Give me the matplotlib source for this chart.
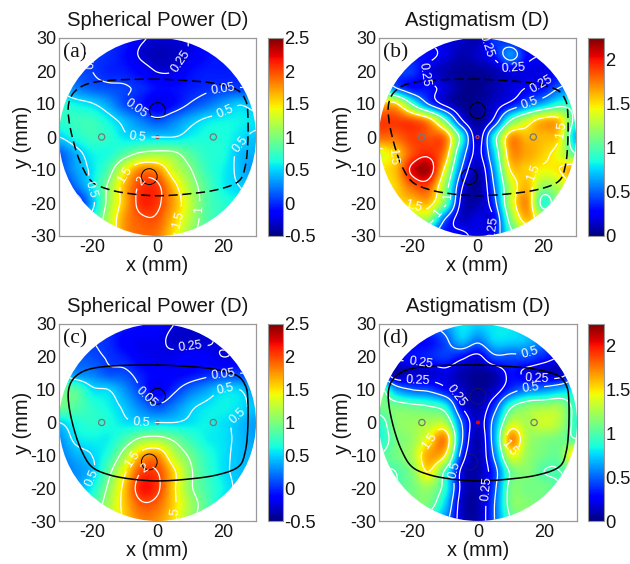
import numpy as np
import matplotlib
matplotlib.use("Agg")
import matplotlib.pyplot as plt
from matplotlib.patches import Circle

plt.rcParams['font.family'] = ['Liberation Sans', 'DejaVu Sans']
plt.rcParams['axes.unicode_minus'] = False

# grid of readings: columns x=-30..30, rows y=30..-30, step 5 mm
grid_x = [-30, -25, -20, -15, -10, -5, 0, 5, 10, 15, 20, 25, 30]
grid_y = [30, 25, 20, 15, 10, 5, 0, -5, -10, -15, -20, -25, -30]

power_a = [
 [ .05, .05, .05, .00,-.05,-.22,-.28,-.28,-.24,-.10,-.05,-.05,-.05],
 [ .05, .05, .05, .00,-.10,-.28,-.35,-.32,-.22,-.10,-.05,-.05,-.05],
 [ .10, .10, .05,-.02,-.05,-.15,-.26,-.25,-.10,-.05,-.05,-.03, .00],
 [ .40, .25, .15, .10, .07, .00,-.10,-.10,-.05, .00, .03, .05, .05],
 [ .70, .60, .52, .35, .10,-.05,-.22,-.10, .07, .20, .35, .48, .40],
 [ .70, .75, .75, .60, .42, .25, .12, .25, .42, .55, .60, .60, .55],
 [ .50, .65, .75, .70, .55, .50, .50, .50, .60, .65, .65, .55, .45],
 [ .15, .40, .60, .65, .85,1.05,1.10,1.05, .85, .70, .65, .45, .40],
 [ .10, .35, .55, .85,1.40,1.80,1.75,1.30,1.02, .75, .60, .45, .30],
 [-.10, .20, .55,1.05,1.65,2.05,2.05,1.60,1.15, .85, .60, .50, .40],
 [-.10,-.10, .40,1.10,1.65,2.10,2.05,1.70,1.25, .85, .70, .60, .50],
 [ .10, .20, .60,1.20,1.75,1.95,1.95,1.60,1.20, .85, .70, .60, .50],
 [ .30, .40, .60,1.20,1.75,1.90,1.85,1.50,1.10, .85, .70, .60, .50],
]
astig_b = [
 [ .20, .20, .20, .20, .20, .15, .10, .40, .30, .20, .20, .20, .20],
 [ .30, .30, .30, .30, .20, .10, .15, .30, .60, .30, .25, .25, .25],
 [ .40, .40, .40, .20, .10, .05, .05, .10, .20, .20, .20, .30, .30],
 [ .90, .50, .30, .30, .18, .05, .03, .10, .18, .25, .30, .50, .60],
 [1.60,1.55,1.00, .50, .20, .05, .05, .15, .30, .50, .70, .90, .90],
 [1.90,1.90,1.85,1.65,1.05, .30, .05, .30,1.00,1.35,1.60,1.55, .90],
 [1.80,1.80,1.90,1.85,1.75, .90, .15, .85,1.65,1.60,1.60,1.50, .70],
 [1.40,1.55,1.85,1.95,1.70, .70, .20, .75,1.65,1.65,1.55,1.40,1.00],
 [1.50,1.60,2.05,2.15,1.45, .50, .10, .60,1.50,1.55,1.45,1.50,1.70],
 [1.45,1.55,1.80,1.85,1.20, .30, .05, .50,1.30,1.60,1.20,1.30,1.50],
 [1.45,1.50,1.55,1.60,1.10, .20, .10, .40,1.30,1.70, .90,1.20,1.20],
 [1.20,1.20,1.20,1.20, .50, .15, .20, .25,1.10,1.60,1.30,1.20,1.20],
 [ .80, .80, .60, .50, .30, .30, .20, .30, .90,1.20,1.20,1.20,1.20],
]
power_c = [
 [ .05, .05, .05, .00,-.05,-.10,-.15,-.25,-.28,-.25,-.20,-.15,-.10],
 [ .05, .05, .05, .00,-.15,-.20,-.20,-.30,-.30,-.28,-.20,-.15,-.10],
 [ .15, .15, .10, .03,-.05,-.18,-.22,-.20,-.15,-.15,-.25,-.20,-.15],
 [ .50, .30, .25, .12, .10,-.05,-.15,-.15,-.10,-.03, .03, .05, .05],
 [ .90, .85, .55, .50, .30, .05,-.20, .00, .20, .35, .50, .50, .30],
 [ .95, .85, .70, .60, .45, .25, .10, .25, .45, .55, .60, .55, .45],
 [ .50, .65, .70, .65, .55, .50, .50, .50, .55, .60, .55, .45, .35],
 [ .30, .55, .60, .60, .80,1.05,1.10, .95, .75, .60, .55, .45, .35],
 [ .25, .40, .50, .70,1.15,1.65,1.75,1.25, .95, .70, .55, .45, .40],
 [ .20, .30, .45, .90,1.45,2.00,2.00,1.55,1.05, .75, .55, .45, .40],
 [ .30, .35, .60,1.05,1.60,2.15,2.05,1.55,1.05, .80, .60, .45, .40],
 [ .40, .45, .75,1.15,1.60,1.95,1.90,1.55,1.15, .85, .55, .50, .45],
 [ .50, .55, .80,1.15,1.55,1.80,1.75,1.50,1.10, .80, .55, .50, .45],
]
astig_d = [
 [ .40, .40, .40, .50, .60, .80, .75, .80, .80, .70, .60, .50, .50],
 [ .30, .30, .30, .30, .45, .70, .55, .75, .75, .70, .55, .50, .50],
 [ .30, .30, .30, .35, .40, .30, .20, .45, .45, .45, .35, .25, .30],
 [ .40, .10, .15, .15, .20, .10, .05, .10, .30, .20, .15, .15, .40],
 [1.10, .65, .50, .45, .30, .15, .05, .15, .40, .55, .60, .70, .80],
 [1.10,1.10,1.05,1.00, .85, .25, .10, .40, .95,1.15,1.20,1.20, .90],
 [ .90,1.15,1.20,1.25,1.25, .50, .15, .60,1.30,1.25,1.35,1.25, .90],
 [ .85,1.10,1.20,1.45,1.70, .55, .10, .65,1.70,1.25,1.15,1.10,1.00],
 [1.00,1.10,1.25,1.65,1.50, .40, .10, .55,1.40,1.20,1.10,1.10,1.60],
 [1.00,1.00,1.15,1.50, .95, .20, .10, .40,1.05,1.15,1.00,1.00,1.10],
 [1.00,1.00,1.10,1.20, .90, .20, .10, .45,1.10,1.10,1.10,1.00,1.00],
 [1.00,1.00,1.10,1.10, .75, .15, .10, .50,1.10,1.15,1.05,1.00,1.00],
 [1.00,1.00,1.00, .90, .60, .15, .10, .50,1.00,1.10,1.00,1.00,1.00],
]

frame_x = [0, -12.5, -20.6, -25, -27, -27, -25.5, -23.2, -20, -14.5, -7.4, 0, 8.8, 18, 24.6, 26.7, 27.5, 27.5, 26.7, 24, 17, 8.8]
frame_y = [17.5, 17.3, 16.3, 14, 10.4, 5.3, -1.8, -8.4, -13.5, -16, -17.3, -17.8, -17.3, -16, -13.5, -9, -1.8, 7.3, 11.4, 14.4, 16.3, 17.1]

power_levels = [-0.25, 0.05, 0.5, 1, 1.5, 2]
astig_levels = [0.25, 0.5, 1, 1.5, 2]
power_ticks = [-0.5, 0, 0.5, 1, 1.5, 2, 2.5]
power_ticklabels = ['-0.5', '0', '0.5', '1', '1.5', '2', '2.5']
astig_ticks = [0, 0.5, 1, 1.5, 2]
astig_ticklabels = ['0', '0.5', '1', '1.5', '2']
axis_ticks = [-30, -20, -10, 0, 10, 20, 30]
x_ticks = [-20, 0, 20]

W, H = 630, 564


def cubic_row(a, n):
    """Catmull-Rom resampling along the last axis."""
    m = a.shape[-1]
    t = np.linspace(0, m - 1, n)
    i = np.clip(np.floor(t).astype(int), 0, m - 2)
    f = t - i
    p0 = a[..., np.clip(i - 1, 0, m - 1)]
    p1 = a[..., i]
    p2 = a[..., i + 1]
    p3 = a[..., np.clip(i + 2, 0, m - 1)]
    return 0.5 * (2 * p1 + (p2 - p0) * f + (2 * p0 - 5 * p1 + 4 * p2 - p3) * f ** 2
                  + (3 * p1 - p0 - 3 * p2 + p3) * f ** 3)


def smooth_field(rows, n=241):
    a = np.array(rows, float)
    a = cubic_row(a, n)
    return cubic_row(a.T, n).T


def smooth_loop(xs, ys, n=10):
    p = np.array([xs, ys], float).T
    out = []
    N = len(p)
    for i in range(N):
        p0, p1, p2, p3 = p[(i - 1) % N], p[i], p[(i + 1) % N], p[(i + 2) % N]
        for f in np.linspace(0, 1, n, endpoint=False):
            out.append(0.5 * (2 * p1 + (p2 - p0) * f + (2 * p0 - 5 * p1 + 4 * p2 - p3) * f ** 2
                              + (3 * p1 - p0 - 3 * p2 + p3) * f ** 3))
    out.append(out[0])
    return np.array(out).T


def rect(l, t, r, b):
    return [l / W, 1 - b / H, (r - l) / W, (b - t) / H]


fig = plt.figure(figsize=(6.3, 5.64), dpi=100)
GX = np.linspace(-30, 30, 241)
GY = np.linspace(30, -30, 241)
fx, fy = smooth_loop(frame_x, frame_y)

panels = [
    dict(z=power_a, box=(59, 38, 256, 236), cb=(268, 38, 283, 236), tag='(a)', title='Spherical Power (D)',
         vmin=-.5, vmax=2.5, lev=power_levels, ticks=power_ticks, tl=power_ticklabels, ls=(0, (6, 3)), lw=1.1, dark=False,
         labs=[(-15, 22.5), (5.5, 24), (-7, 8), (20, 14), (-6, 0), (20, 9), (25, -2), (-21, -16), (-9, -12), (-5.5, -13), (6, -25), (12, -22)]),
    dict(z=astig_b, box=(379, 38, 576, 236), cb=(588, 38, 604, 236), tag='(b)', title='Astigmatism (D)',
         vmin=0, vmax=2.25, lev=astig_levels, ticks=astig_ticks, tl=astig_ticklabels, ls=(0, (6, 3)), lw=1.1, dark=False,
         labs=[(-17, 19), (-1, 27), (11, 22), (19, 17), (16, 10), (-8, -18), (-12, -23), (-19, -19), (2, -27), (17, -11), (-25, -6), (26, 2)]),
    dict(z=power_c, box=(59, 324, 256, 521), cb=(268, 324, 283, 521), tag='(c)', title='Spherical Power (D)',
         vmin=-.5, vmax=2.5, lev=power_levels, ticks=power_ticks, tl=power_ticklabels, ls='-', lw=1.1, dark=False,
         labs=[(10, 24), (20, 14.5), (-4, 7), (-5, 0), (21, 9), (25, 1), (-22, -16), (-8, -11), (-4, -14), (3, -28)]),
    dict(z=astig_d, box=(379, 324, 577, 521), cb=(588, 324, 604, 521), tag='(d)', title='Astigmatism (D)',
         vmin=0, vmax=2.25, lev=astig_levels, ticks=astig_ticks, tl=astig_ticklabels, ls='-', lw=1.1, dark=True,
         labs=[(-17, 21), (-18, 14.5), (16, 20), (18, 15), (-6, 8.5), (16, 10), (-14, -6), (9, -8), (-8, -14), (0.5, -20)]),
]

for p in panels:
    ax = fig.add_axes(rect(*p['box']))
    Z = smooth_field(p['z'])
    clip = Circle((0, 0), 30, transform=ax.transData)
    im = ax.imshow(Z, extent=(-30, 30, -30, 30), cmap='jet', vmin=p['vmin'], vmax=p['vmax'],
                   interpolation='bilinear', aspect='auto')
    im.set_clip_path(clip)
    cs = ax.contour(GX, GY, Z, levels=p['lev'], colors='white', linewidths=0.9, linestyles='solid')
    cs.set_clip_path(clip)
    ax.clabel(cs, inline=True, fontsize=9, colors='white', manual=p['labs'],
              fmt={v: ('%g' % abs(v)) for v in p['lev']})
    ax.plot(fx, fy, color='black', ls=p['ls'], lw=p['lw'])
    ec = '#202040' if p['dark'] else 'black'
    al = .6 if p['dark'] else 1
    ax.add_patch(Circle((0, 8), 2.4, fill=False, ec=ec, lw=0.7, alpha=al))
    ax.add_patch(Circle((-2.5, -12), 2.4, fill=False, ec=ec, lw=0.7, alpha=al))
    for cx in (-17, 17):
        ax.add_patch(Circle((cx, 0), 0.95, fill=False, ec='#777777', lw=0.9))
    if p['dark']:
        ax.add_patch(Circle((0, 0), 0.5, fc='red', ec='red', lw=0.5))
    else:
        ax.add_patch(Circle((0, 0), 0.45, fill=False, ec='#b04050', lw=0.9))
    ax.set_xlim(-30, 30)
    ax.set_ylim(-30, 30)
    ax.set_xticks(x_ticks)
    ax.set_yticks(axis_ticks)
    ax.tick_params(length=0, labelsize=13, pad=2, labelcolor='#151515')
    for s in ax.spines.values():
        s.set_color('#999999')
        s.set_linewidth(0.9)
    ax.set_title(p['title'], fontsize=14.6, pad=9, color='#151515')
    ax.set_xlabel('x (mm)', fontsize=14.4, labelpad=0, color='#151515')
    ax.set_ylabel('y (mm)', fontsize=14.4, labelpad=-1, color='#151515')
    ax.text(0.02, 0.975, p['tag'], transform=ax.transAxes, ha='left', va='top',
            fontsize=15.5, family=['Liberation Serif', 'DejaVu Serif'], color='#151515')

    cax = fig.add_axes(rect(*p['cb']))
    cb = fig.colorbar(im, cax=cax)
    cb.set_ticks(p['ticks'])
    cb.set_ticklabels(p['tl'])
    cb.ax.tick_params(length=0, labelsize=13.2, pad=1, labelcolor='#151515')
    cb.outline.set_edgecolor('#999999')
    cb.outline.set_linewidth(0.8)

fig.savefig('out.png', dpi=100)
